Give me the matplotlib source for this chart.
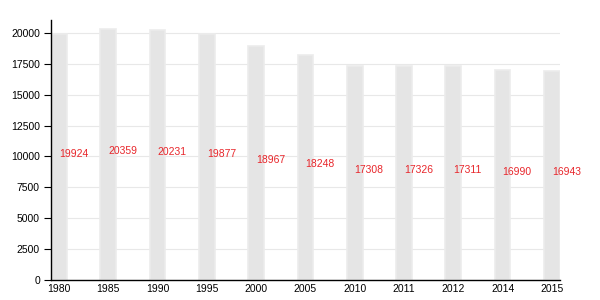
import matplotlib
matplotlib.use("Agg")
import matplotlib.pyplot as plt

# ---- DATA ----
years = ["1980", "1985", "1990", "1995", "2000", "2005", "2010", "2011", "2012", "2014", "2015"]
population = [19924, 20359, 20231, 19877, 18967, 18248, 17308, 17326, 17311, 16990, 16943]
y_ticks = [0, 2500, 5000, 7500, 10000, 12500, 15000, 17500, 20000]

plt.rcParams["font.family"] = ["Liberation Sans", "DejaVu Sans"]


def main():
    fig = plt.figure(figsize=(6, 3), dpi=100)
    ax = fig.add_axes([0.085, 0.0667, 0.848, 0.8667])

    x = list(range(len(years)))
    ax.bar(x, population, width=0.32, color="#e5e5e5", edgecolor="#ececec",
           linewidth=1.2, zorder=2)

    # value labels, red, starting at bar centre, baseline at half height
    for xi, v in zip(x, population):
        ax.text(xi, v / 2, str(v), color="#e8262b", fontsize=7.5,
                ha="left", va="baseline", zorder=3)

    ax.set_xlim(-0.16, 10.16)
    ax.set_ylim(0, 21050)
    ax.set_xticks(x)
    ax.set_xticklabels(years)
    ax.set_yticks(y_ticks)

    ax.yaxis.grid(True, color="#e8e8e8", linewidth=0.8, zorder=0)
    ax.set_axisbelow(True)

    for side in ["top", "right"]:
        ax.spines[side].set_visible(False)
    ax.spines["left"].set_linewidth(1.0)
    ax.spines["bottom"].set_linewidth(1.0)

    ax.tick_params(axis="y", length=5, width=0.8, labelsize=7.5, pad=3)
    ax.tick_params(axis="x", length=0, labelsize=7.5, pad=3)

    fig.savefig("out.png", dpi=100)
    plt.close(fig)


if __name__ == "__main__":
    main()
